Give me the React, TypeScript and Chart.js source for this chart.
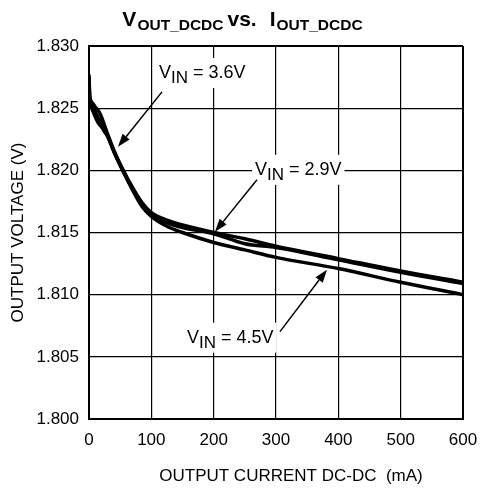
import { useEffect, useRef } from "react";
import { Chart, registerables } from "chart.js";

Chart.register(...registerables);

// ---- data ----
const CURRENT_MA = [0, 1, 3, 6, 10, 15, 20, 25, 30, 40, 55, 70, 85, 100, 125, 150, 200, 250, 300, 400, 500, 600];
const VOUT_VIN_2_9 = [1.8277, 1.8262, 1.8256, 1.8254, 1.8251, 1.8248, 1.8243, 1.8236, 1.8229, 1.8216, 1.82, 1.8186, 1.8174, 1.8166, 1.816, 1.8156, 1.815, 1.8145, 1.8139, 1.8129, 1.8119, 1.811];
const VOUT_VIN_3_6 = [1.8275, 1.8258, 1.8252, 1.8248, 1.8243, 1.8238, 1.8235, 1.8231, 1.8227, 1.8215, 1.8199, 1.8185, 1.8173, 1.8165, 1.8158, 1.8154, 1.8149, 1.8141, 1.8138, 1.8128, 1.8118, 1.8109];
const VOUT_VIN_4_5 = [1.8274, 1.8256, 1.8254, 1.8251, 1.8247, 1.8242, 1.8238, 1.8233, 1.8228, 1.8215, 1.8199, 1.8184, 1.8171, 1.8163, 1.8155, 1.815, 1.8142, 1.8136, 1.813, 1.8121, 1.811, 1.81];

const X_TICKS = [0, 100, 200, 300, 400, 500, 600];
const Y_TICKS = [1.8, 1.805, 1.81, 1.815, 1.82, 1.825, 1.83];

const X_TITLE = "OUTPUT CURRENT DC-DC  (mA)";
const Y_TITLE = "OUTPUT VOLTAGE (V)";

// annotations (data coordinates)
const ANNOT_VALUES = ["3.6V", "2.9V", "4.5V"];
const ANNOT_TEXT_X = [112.3, 266.3, 157.2];
const ANNOT_TEXT_Y = [1.82743, 1.81964, 1.80614];
const ARROW_FROM_X = [117.1, 269.5, 306.4];
const ARROW_FROM_Y = [1.82631, 1.81924, 1.80703];
const ARROW_TO_X = [46.5, 202.1, 381.8];
const ARROW_TO_Y = [1.82189, 1.81506, 1.81201];

const FONT = "'Liberation Sans', Arial, Helvetica, sans-serif";

const toPoints = (ys: number[]) => CURRENT_MA.map((x, i) => ({ x, y: ys[i] }));

const titlePlugin = {
  id: "titleSub",
  afterDraw(chart: any) {
    const ctx = chart.ctx as CanvasRenderingContext2D;
    const main = `bold 21px ${FONT}`;
    const sub = `bold 15.5px ${FONT}`;
    const segs = [
      { t: "V", f: main, dy: 0, gap: 0 },
      { t: "OUT_DCDC", f: sub, dy: 3.5, gap: 1 },
      { t: "vs.", f: main, dy: 0, gap: 4 },
      { t: "I", f: main, dy: 0, gap: 13 },
      { t: "OUT_DCDC", f: sub, dy: 3.5, gap: 1 },
    ];
    ctx.save();
    let total = 0;
    const widths = segs.map((s) => {
      ctx.font = s.f;
      const w = ctx.measureText(s.t).width;
      total += w + s.gap;
      return w;
    });
    let x = chart.width / 2 + 2 - total / 2;
    const base = 26;
    ctx.fillStyle = "#000";
    ctx.textBaseline = "alphabetic";
    ctx.textAlign = "left";
    segs.forEach((s, i) => {
      x += s.gap;
      ctx.font = s.f;
      ctx.fillText(s.t, x, base + s.dy);
      x += widths[i];
    });
    // x-axis title (offset right of plot centre, as in the reference)
    const area = chart.chartArea;
    ctx.font = `17px ${FONT}`;
    ctx.textAlign = "center";
    ctx.fillText(X_TITLE, (area.left + area.right) / 2 + 15, 481);
    ctx.restore();
  },
};

const annotPlugin = {
  id: "annots",
  beforeDatasetsDraw(chart: any) {
    const ctx = chart.ctx as CanvasRenderingContext2D;
    const xs = chart.scales.x;
    const ys = chart.scales.y;
    ctx.save();
    ctx.textBaseline = "alphabetic";
    ctx.textAlign = "left";
    ANNOT_VALUES.forEach((val, i) => {
      const px = xs.getPixelForValue(ANNOT_TEXT_X[i]);
      const py = ys.getPixelForValue(ANNOT_TEXT_Y[i]);
      ctx.font = `18px ${FONT}`;
      const wV = ctx.measureText("V").width;
      const rest = " = " + val;
      const wR = ctx.measureText(rest).width;
      ctx.font = `17px ${FONT}`;
      const wI = ctx.measureText("IN").width;
      const w = wV + wI + wR;
      ctx.fillStyle = "#fff";
      ctx.fillRect(px - 3, py - 20, w + 6, 30);
      ctx.fillStyle = "#000";
      ctx.font = `18px ${FONT}`;
      ctx.fillText("V", px, py);
      ctx.font = `17px ${FONT}`;
      ctx.fillText("IN", px + wV, py + 5);
      ctx.font = `18px ${FONT}`;
      ctx.fillText(rest, px + wV + wI, py);
    });
    ctx.restore();
  },
  afterDatasetsDraw(chart: any) {
    const ctx = chart.ctx as CanvasRenderingContext2D;
    const xs = chart.scales.x;
    const ys = chart.scales.y;
    ctx.save();
    ctx.strokeStyle = "#000";
    ctx.fillStyle = "#000";
    ctx.lineWidth = 1.5;
    ARROW_FROM_X.forEach((_, i) => {
      const x1 = xs.getPixelForValue(ARROW_FROM_X[i]);
      const y1 = ys.getPixelForValue(ARROW_FROM_Y[i]);
      const x2 = xs.getPixelForValue(ARROW_TO_X[i]);
      const y2 = ys.getPixelForValue(ARROW_TO_Y[i]);
      const ang = Math.atan2(y2 - y1, x2 - x1);
      const L = 13;
      const H = 4.5;
      const bx = x2 - L * Math.cos(ang);
      const by = y2 - L * Math.sin(ang);
      ctx.beginPath();
      ctx.moveTo(x1, y1);
      ctx.lineTo(bx, by);
      ctx.stroke();
      ctx.beginPath();
      ctx.moveTo(x2, y2);
      ctx.lineTo(bx + H * Math.sin(ang), by - H * Math.cos(ang));
      ctx.lineTo(bx - H * Math.sin(ang), by + H * Math.cos(ang));
      ctx.closePath();
      ctx.fill();
    });
    ctx.restore();
  },
};

export default function App() {
  const ref = useRef<HTMLCanvasElement | null>(null);
  useEffect(() => {
    if (!ref.current) return;
    const lineDs = (label: string, ys: number[]) => ({
      label,
      data: toPoints(ys),
      borderColor: "#000",
      backgroundColor: "#000",
      borderWidth: 3.5,
      pointRadius: 0,
      fill: false,
      cubicInterpolationMode: "monotone" as const,
    });
    const chart = new Chart(ref.current, {
      type: "line",
      data: {
        datasets: [
          lineDs("VIN = 4.5V", VOUT_VIN_4_5),
          lineDs("VIN = 3.6V", VOUT_VIN_3_6),
          lineDs("VIN = 2.9V", VOUT_VIN_2_9),
        ],
      },
      options: {
        animation: false,
        responsive: true,
        maintainAspectRatio: false,
        layout: { padding: { top: 46, right: 18, left: 0, bottom: 0 } },
        plugins: { legend: { display: false }, tooltip: { enabled: false }, title: { display: false } },
        scales: {
          x: {
            type: "linear",
            min: 0,
            max: 600,
            afterBuildTicks: (s: any) => {
              s.ticks = X_TICKS.map((v) => ({ value: v }));
            },
            afterFit: (s: any) => {
              s.height = 80;
              s.paddingLeft = 0;
              s.paddingRight = 0;
            },
            ticks: {
              color: "#000",
              font: { family: FONT, size: 17 },
              padding: 11,
              maxRotation: 0,
              callback: (v: any) => String(v),
            },
            grid: {
              color: "#000",
              drawTicks: false,
              lineWidth: (c: any) => (c.index === 0 || c.index === X_TICKS.length - 1 ? 2 : 1.2),
            },
            border: { display: true, color: "#000", width: 2 },
            title: { display: false, text: X_TITLE },
          },
          y: {
            type: "linear",
            min: 1.8,
            max: 1.83,
            afterBuildTicks: (s: any) => {
              s.ticks = Y_TICKS.map((v) => ({ value: v }));
            },
            afterFit: (s: any) => {
              s.width = 89;
              s.paddingTop = 0;
              s.paddingBottom = 0;
            },
            ticks: {
              color: "#000",
              font: { family: FONT, size: 17 },
              padding: 10,
              callback: (v: any) => Number(v).toFixed(3),
            },
            grid: {
              color: "#000",
              drawTicks: false,
              lineWidth: (c: any) => (c.index === 0 || c.index === Y_TICKS.length - 1 ? 2 : 1.2),
            },
            border: { display: true, color: "#000", width: 2 },
            title: {
              display: true,
              text: Y_TITLE,
              color: "#000",
              font: { family: FONT, size: 17 },
              padding: { top: 8, bottom: 0 },
            },
          },
        },
      },
      plugins: [annotPlugin, titlePlugin],
    });
    return () => chart.destroy();
  }, []);
  return (
    <div style={{ position: "absolute", left: 0, top: 0, width: 481, height: 499, background: "#fff" }}>
      <canvas ref={ref} />
    </div>
  );
}
